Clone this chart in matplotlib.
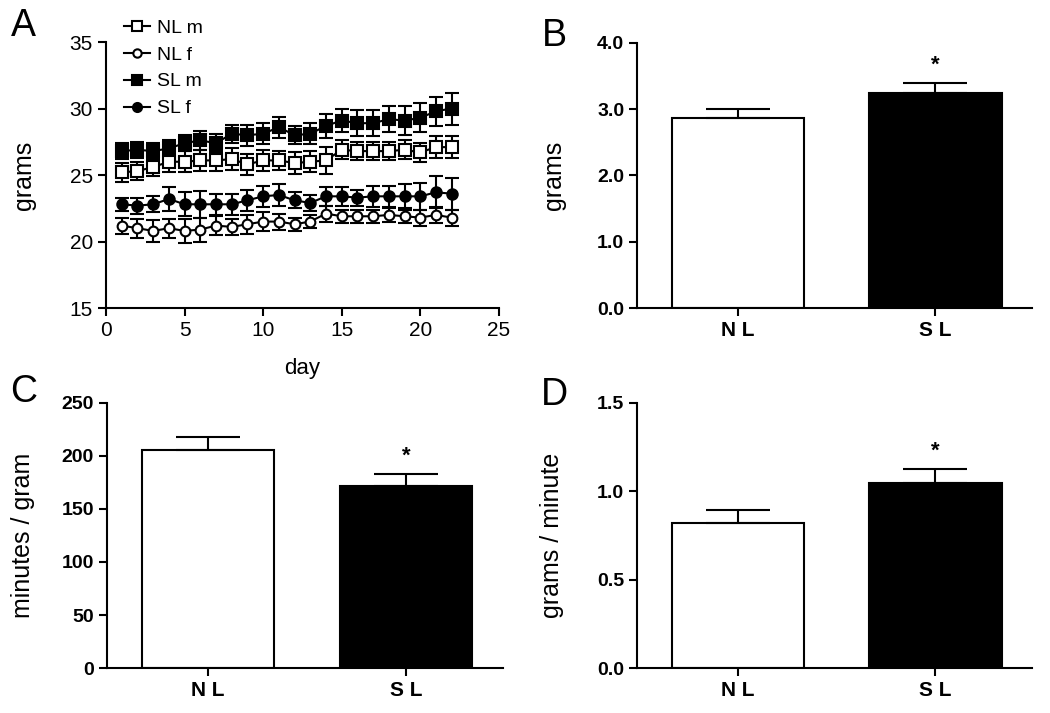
import numpy as np
import matplotlib
matplotlib.use("Agg")
import matplotlib.pyplot as plt
from matplotlib.lines import Line2D

plt.rcParams['font.family'] = ['Liberation Sans', 'DejaVu Sans']

# panel A : body weight per day
days = np.arange(1, 23)
nl_m = [25.2, 25.3, 25.6, 26.0, 26.0, 26.1, 26.1, 26.2, 25.8, 26.1, 26.1,
        25.9, 26.0, 26.1, 26.9, 26.8, 26.8, 26.8, 26.9, 26.7, 27.1, 27.1]
nl_m_err = [0.7, 0.7, 0.7, 0.8, 0.8, 0.8, 0.8, 0.8, 0.8, 0.8, 0.7,
            0.8, 0.8, 1.0, 0.7, 0.7, 0.7, 0.7, 0.7, 0.7, 0.8, 0.8]
nl_f = [21.2, 21.0, 20.8, 21.0, 20.8, 20.9, 21.2, 21.1, 21.3, 21.5, 21.5,
        21.3, 21.5, 22.1, 21.9, 21.9, 21.9, 22.0, 21.9, 21.8, 22.0, 21.8]
nl_f_err = [0.6, 0.7, 0.8, 0.7, 0.9, 0.9, 0.7, 0.6, 0.7, 0.7, 0.6,
            0.5, 0.5, 0.6, 0.5, 0.5, 0.5, 0.5, 0.5, 0.6, 0.6, 0.6]
sl_m = [26.8, 26.9, 26.8, 27.0, 27.4, 27.6, 27.4, 28.1, 28.0, 28.1, 28.6,
        28.0, 28.1, 28.7, 29.1, 28.9, 28.9, 29.2, 29.1, 29.3, 29.8, 30.0]
sl_m_err = [0.6, 0.6, 0.6, 0.6, 0.6, 0.7, 0.7, 0.7, 0.8, 0.8, 0.8,
            0.7, 0.8, 0.9, 0.9, 1.0, 1.0, 1.0, 1.1, 1.1, 1.1, 1.2]
sl_f = [22.8, 22.7, 22.8, 23.2, 22.8, 22.8, 22.8, 22.8, 23.1, 23.4, 23.5,
        23.1, 22.9, 23.4, 23.4, 23.3, 23.4, 23.4, 23.4, 23.4, 23.7, 23.6]
sl_f_err = [0.5, 0.6, 0.6, 0.9, 0.9, 1.0, 0.8, 0.8, 0.8, 0.8, 0.8,
            0.6, 0.6, 0.7, 0.7, 0.6, 0.8, 0.8, 0.9, 1.0, 1.2, 1.2]

# panels B, C, D : group means and sem
groups = ["N L", "S L"]
grams = [2.87, 3.25]
grams_err = [0.13, 0.15]
min_per_gram = [206, 172]
min_per_gram_err = [12, 11]
gram_per_min = [0.82, 1.047]
gram_per_min_err = [0.076, 0.08]

fig = plt.figure(figsize=(10.5, 7.13), dpi=100)

# ---- A
ax = fig.add_axes([0.101, 0.568, 0.374, 0.373])
series = [
    ("NL m", nl_m, nl_m_err, "s", "white", 8.5),
    ("NL f", nl_f, nl_f_err, "o", "white", 7),
    ("SL m", sl_m, sl_m_err, "s", "black", 8.5),
    ("SL f", sl_f, sl_f_err, "o", "black", 7.5),
]
handles = []
for lab, vals, err, mk, fc, ms in series:
    ax.errorbar(days, vals, yerr=err, fmt="-" + mk, color="black",
                mfc=fc, mec="black", ms=ms, mew=1.5, lw=1.5,
                elinewidth=1.5, capsize=5, capthick=1.5)
    handles.append(Line2D([], [], color="black", lw=1.5, marker=mk,
                          mfc=fc, mec="black", ms=ms - 1, mew=1.5, label=lab))
ax.set_xlim(0, 25)
ax.set_ylim(15, 35)
ax.set_xticks([0, 5, 10, 15, 20, 25])
ax.set_yticks([15, 20, 25, 30, 35])
ax.set_xlabel("day", fontsize=16, labelpad=13)
ax.set_ylabel("grams", fontsize=18, labelpad=24)
ax.legend(handles=handles, loc="upper left",
          bbox_to_anchor=(124 / 1050, 1 - 19 / 713),
          bbox_transform=fig.transFigure,
          frameon=False, fontsize=14, handlelength=1.35,
          handletextpad=0.35, labelspacing=0.48, borderpad=0,
          borderaxespad=0)

# ---- bar panels
def bar_panel(rect, vals, errs, ylim, yticks, fmt, ylabel, pad):
    a = fig.add_axes(rect)
    x = np.arange(len(vals))
    a.bar(x, vals, width=0.67, color=["white", "black"], edgecolor="black",
          linewidth=1.5)
    a.errorbar(x, vals, yerr=[[0, 0], errs], fmt="none", ecolor="black",
               elinewidth=1.5, capsize=23, capthick=1.5)
    a.text(x[1], vals[1] + errs[1] + (ylim[1] - ylim[0]) * 0.065, "*",
           ha="center", va="center", fontsize=16, fontweight="bold")
    a.set_xlim(-0.51, 1.49)
    a.set_ylim(*ylim)
    a.set_xticks(x)
    a.set_xticklabels(groups, fontweight="bold", fontsize=15)
    a.set_yticks(yticks)
    a.set_yticklabels([fmt.format(t) for t in yticks], fontweight="bold",
                      fontsize=14)
    a.set_ylabel(ylabel, fontsize=18, labelpad=pad)
    return a

axb = bar_panel([0.607, 0.568, 0.376, 0.372], grams, grams_err, (0, 4),
                [0, 1, 2, 3, 4], "{:.1f}", "grams", 22)
axc = bar_panel([0.102, 0.063, 0.377, 0.372], min_per_gram, min_per_gram_err,
                (0, 250), [0, 50, 100, 150, 200, 250], "{:d}",
                "minutes / gram", 19)
axd = bar_panel([0.607, 0.063, 0.376, 0.372], gram_per_min, gram_per_min_err,
                (0, 1.5), [0, 0.5, 1.0, 1.5], "{:.1f}", "grams / minute", 24)

for a in [ax, axb, axc, axd]:
    for s in ["top", "right"]:
        a.spines[s].set_visible(False)
    for s in ["left", "bottom"]:
        a.spines[s].set_linewidth(1.5)
    a.tick_params(width=1.5, length=6, color="black")
ax.tick_params(labelsize=15)

for lab, x, y in [("A", 23, 26), ("B", 554, 36),
                  ("C", 24, 392), ("D", 554, 395)]:
    fig.text(x / 1050, 1 - y / 713, lab, fontsize=27, ha="center",
             va="center")

fig.savefig("out.png", dpi=100)
